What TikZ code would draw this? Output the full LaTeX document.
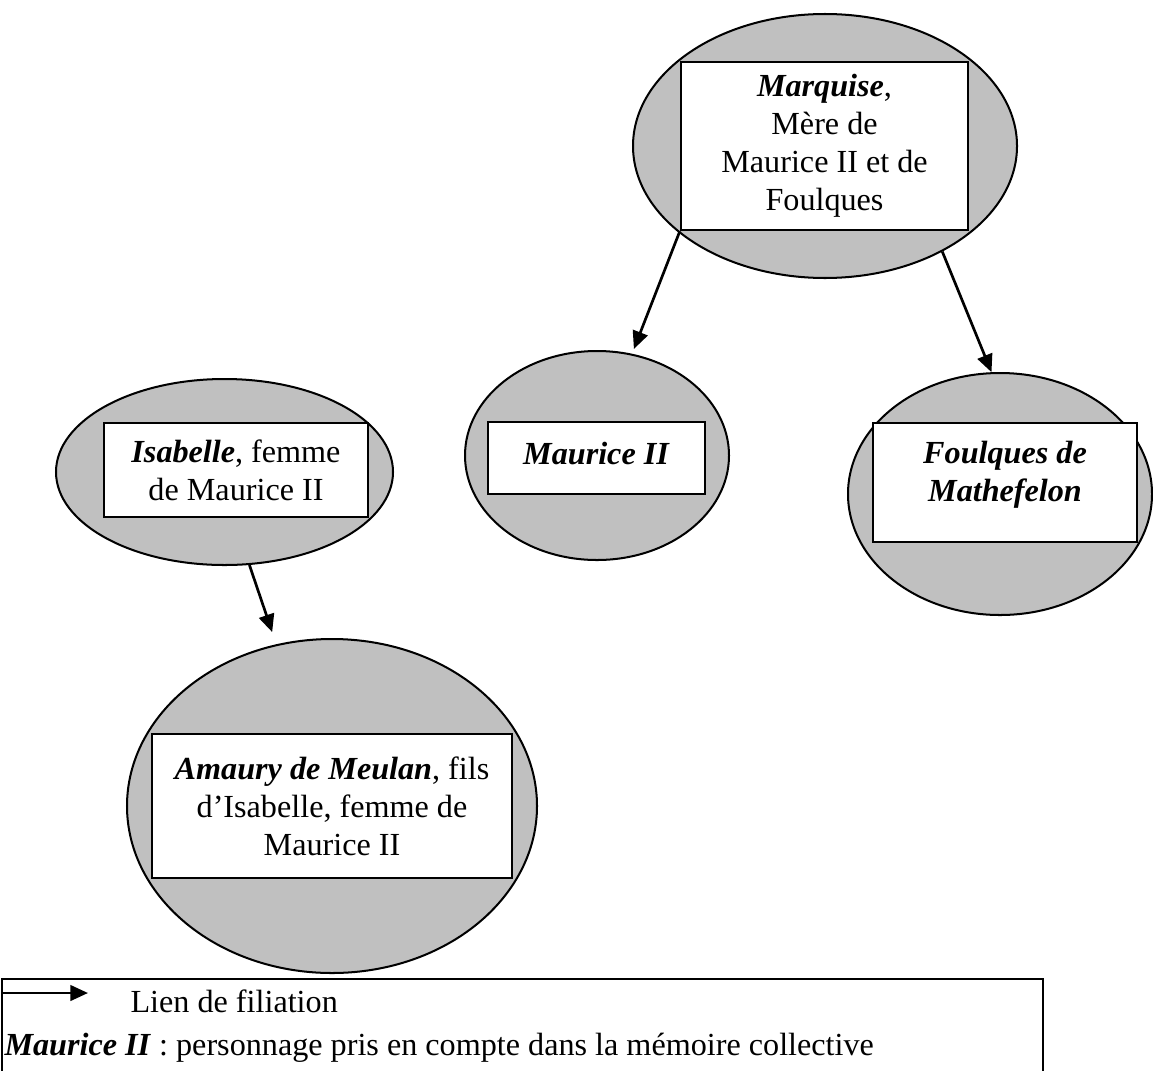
\documentclass[tikz,border=0pt]{standalone}
\usepackage{fontspec}
\setmainfont{Liberation Serif}
\usetikzlibrary{shapes.geometric,arrows.meta}
\newdimen\px \px=0.373pt
\definecolor{ellgray}{RGB}{192,192,192}
\tikzset{
  pers/.style={ellipse, draw, fill=ellgray, line width=0.75pt, inner sep=0pt},
  namebox/.style={rectangle, draw, fill=white, line width=0.9pt, align=center, inner sep=0pt,
    font=\fontsize{12}{14.2}\selectfont},
  boxtext/.style={align=center, inner sep=0pt, font=\fontsize{12}{14.2}\selectfont},
  filiation/.style={line width=1pt, -{Triangle[length=6.6pt,width=5.8pt]}},
  legtext/.style={anchor=base west, inner sep=0pt, font=\fontsize{12}{14.2}\selectfont},
}
\begin{document}
\begin{tikzpicture}[x=0.373pt,y=-0.373pt]
\useasboundingbox (0,0) rectangle (1153,1070);

% ellipses
\node[pers, minimum width=384\px, minimum height=264\px] (marqE) at (825,146) {};
\node[pers, minimum width=264\px, minimum height=209\px] (mauE) at (597,455.5) {};
\node[pers, minimum width=304\px, minimum height=242\px] (fouE) at (1000,494) {};
\node[pers, minimum width=337\px, minimum height=186\px] (isaE) at (224.5,472) {};
\node[pers, minimum width=410\px, minimum height=334\px] (amaE) at (332,806) {};

% boxes
\node[namebox, minimum width=287\px, minimum height=168\px] (marqB) at (824.5,146)
  {\textbf{\textit{Marquise}},\\Mère de\\Maurice II et de\\Foulques};
\node[namebox, minimum width=217\px, minimum height=72\px] (mauB) at (596.5,458) {};
\node[boxtext] (mauT) at (596.5,454) {\textbf{\textit{Maurice II}}};
\node[namebox, minimum width=264\px, minimum height=119\px] (fouB) at (1005,482.5) {};
\node[boxtext] (fouT) at (1005,475)
  {\textbf{\textit{Foulques de}}\\\textbf{\textit{Mathefelon}}};
\node[namebox, minimum width=264\px, minimum height=94\px] (isaB) at (236,470)
  {\textbf{\textit{Isabelle}}, femme\\de Maurice II};
\node[namebox, minimum width=360\px, minimum height=144\px] (amaB) at (332,806)
  {\textbf{\textit{Amaury de Meulan}}, fils\\d’Isabelle, femme de\\Maurice II};

% filiation links
\draw[filiation, shorten >=1.9pt] (marqB.south west) -- (mauE.71);
\draw[filiation] (marqE.-42) -- (fouE.94);
\draw[filiation, shorten >=4.8pt] (isaE.-75) -- (amaE.109);

% legend
\draw[line width=0.9pt] (2,1078) -- (2,979) -- (1043,979) -- (1043,1078);
\coordinate (legA) at (2,993);
\coordinate (legB) at (88,993);
\draw[filiation] (legA) -- (legB);
\node[legtext] (lien) at (130,1012) {Lien de filiation};
\node[legtext] (memo) at (4,1055)
  {\textbf{\textit{Maurice II}} : personnage pris en compte dans la mémoire collective};
\end{tikzpicture}
\end{document}
